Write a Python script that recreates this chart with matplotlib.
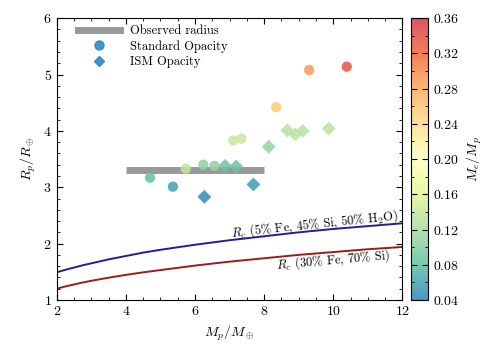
import numpy as np
import matplotlib
matplotlib.use("Agg")
import matplotlib.pyplot as plt
from matplotlib.lines import Line2D
from matplotlib.colors import LinearSegmentedColormap
from matplotlib.ticker import MultipleLocator

plt.rcParams['font.family'] = 'serif'
plt.rcParams['font.serif'] = ['cmr10']
plt.rcParams['mathtext.fontset'] = 'cm'
plt.rcParams['axes.formatter.use_mathtext'] = True
plt.rcParams['axes.unicode_minus'] = False

# standard opacity runs (circles)
std_mass = [4.70, 5.36, 5.73, 6.24, 6.56, 7.10, 7.34, 8.35, 9.30, 10.39]
std_radius = [3.17, 3.01, 3.33, 3.40, 3.38, 3.83, 3.86, 4.42, 5.08, 5.14]
std_frac = [0.08, 0.06, 0.136, 0.104, 0.104, 0.142, 0.142, 0.255, 0.29, 0.337]

# ISM opacity runs (diamonds)
ism_mass = [6.27, 6.87, 7.19, 7.69, 8.13, 8.67, 8.90, 9.12, 9.87]
ism_radius = [2.83, 3.38, 3.37, 3.05, 3.72, 4.01, 3.94, 4.00, 4.04]
ism_frac = [0.045, 0.085, 0.085, 0.055, 0.107, 0.13, 0.13, 0.13, 0.13]

# observed radius band
obs_mass = [4.0, 8.0]
obs_radius = [3.31, 3.31]

# core radius curves
core_mass = [2, 2.25, 2.5, 2.75, 3, 3.5, 4, 4.5, 5, 6, 7, 8, 9, 10, 11, 12]
core_water = [1.49, 1.535, 1.575, 1.615, 1.65, 1.72, 1.78, 1.84, 1.89,
              1.98, 2.06, 2.13, 2.20, 2.26, 2.31, 2.36]
core_rock = [1.20, 1.24, 1.275, 1.31, 1.34, 1.395, 1.445, 1.49, 1.53,
             1.61, 1.68, 1.74, 1.80, 1.85, 1.90, 1.94]

# 9-class Spectral, reversed (blue -> red)
spectral9 = ['#3288bd', '#66c2a5', '#abdda4', '#e6f598', '#ffffbf',
             '#fee08b', '#fdae61', '#f46d43', '#d53e4f']
cmap = LinearSegmentedColormap.from_list('spec9', spectral9)
vmin, vmax = 0.04, 0.36

fig = plt.figure(figsize=(4.89, 3.5), dpi=100)
ax = fig.add_axes([0.116, 0.143, 0.707, 0.805])
cax = fig.add_axes([0.841, 0.143, 0.034, 0.805])

ax.plot(obs_mass, obs_radius, color='#999999', lw=5, solid_capstyle='butt', zorder=1)
ax.plot(core_mass, core_water, color='#1f1f99', lw=1.4)
ax.plot(core_mass, core_rock, color='#9b1c1c', lw=1.4)

sc = ax.scatter(std_mass, std_radius, c=std_frac, cmap=cmap, vmin=vmin, vmax=vmax,
                marker='o', s=55, alpha=0.88, edgecolors='none', zorder=3)
ax.scatter(ism_mass, ism_radius, c=ism_frac, cmap=cmap, vmin=vmin, vmax=vmax,
           marker='D', s=50, alpha=0.88, edgecolors='none', zorder=3)

ax.text(9.45, 2.34, r'$R_c$ (5% Fe, 45% Si, 50% H$_2$O)', fontsize=9,
        rotation=6, ha='center', va='center')
ax.text(10.0, 1.71, r'$R_c$ (30% Fe, 70% Si)', fontsize=9,
        rotation=5, ha='center', va='center')

ax.set_xlim(2, 12)
ax.set_ylim(1, 6)
ax.xaxis.set_major_locator(MultipleLocator(2))
ax.xaxis.set_minor_locator(MultipleLocator(0.5))
ax.yaxis.set_major_locator(MultipleLocator(1))
ax.yaxis.set_minor_locator(MultipleLocator(0.2))
ax.tick_params(which='both', direction='in', top=True, right=True, labelsize=10)
ax.tick_params(which='major', length=4)
ax.tick_params(which='minor', length=2)
ax.set_xlabel(r'$M_p/M_\oplus$', fontsize=10)
ax.set_ylabel(r'$R_p/R_\oplus$', fontsize=10)

blue = spectral9[0]
handles = [
    Line2D([], [], color='#999999', lw=5),
    Line2D([], [], marker='o', color=blue, ls='none', ms=6.5, alpha=0.9),
    Line2D([], [], marker='D', color=blue, ls='none', ms=5.5, alpha=0.9),
]
ax.legend(handles, ['Observed radius', 'Standard Opacity', 'ISM Opacity'],
          loc='upper left', bbox_to_anchor=(0.035, 1.007), frameon=False,
          fontsize=9, handlelength=3.4, borderaxespad=0.3, labelspacing=0.25)

cb = fig.colorbar(sc, cax=cax)
cb.set_ticks(np.arange(0.04, 0.361, 0.04))
cb.ax.yaxis.set_minor_locator(MultipleLocator(0.02))
cb.ax.tick_params(which='both', direction='in', left=True, right=True, labelsize=10)
cb.ax.tick_params(which='major', length=4)
cb.ax.tick_params(which='minor', length=2)
cb.outline.set_linewidth(0.8)
cb.set_label(r'$M_e/M_p$', fontsize=10)

fig.savefig('out.png', dpi=100)
